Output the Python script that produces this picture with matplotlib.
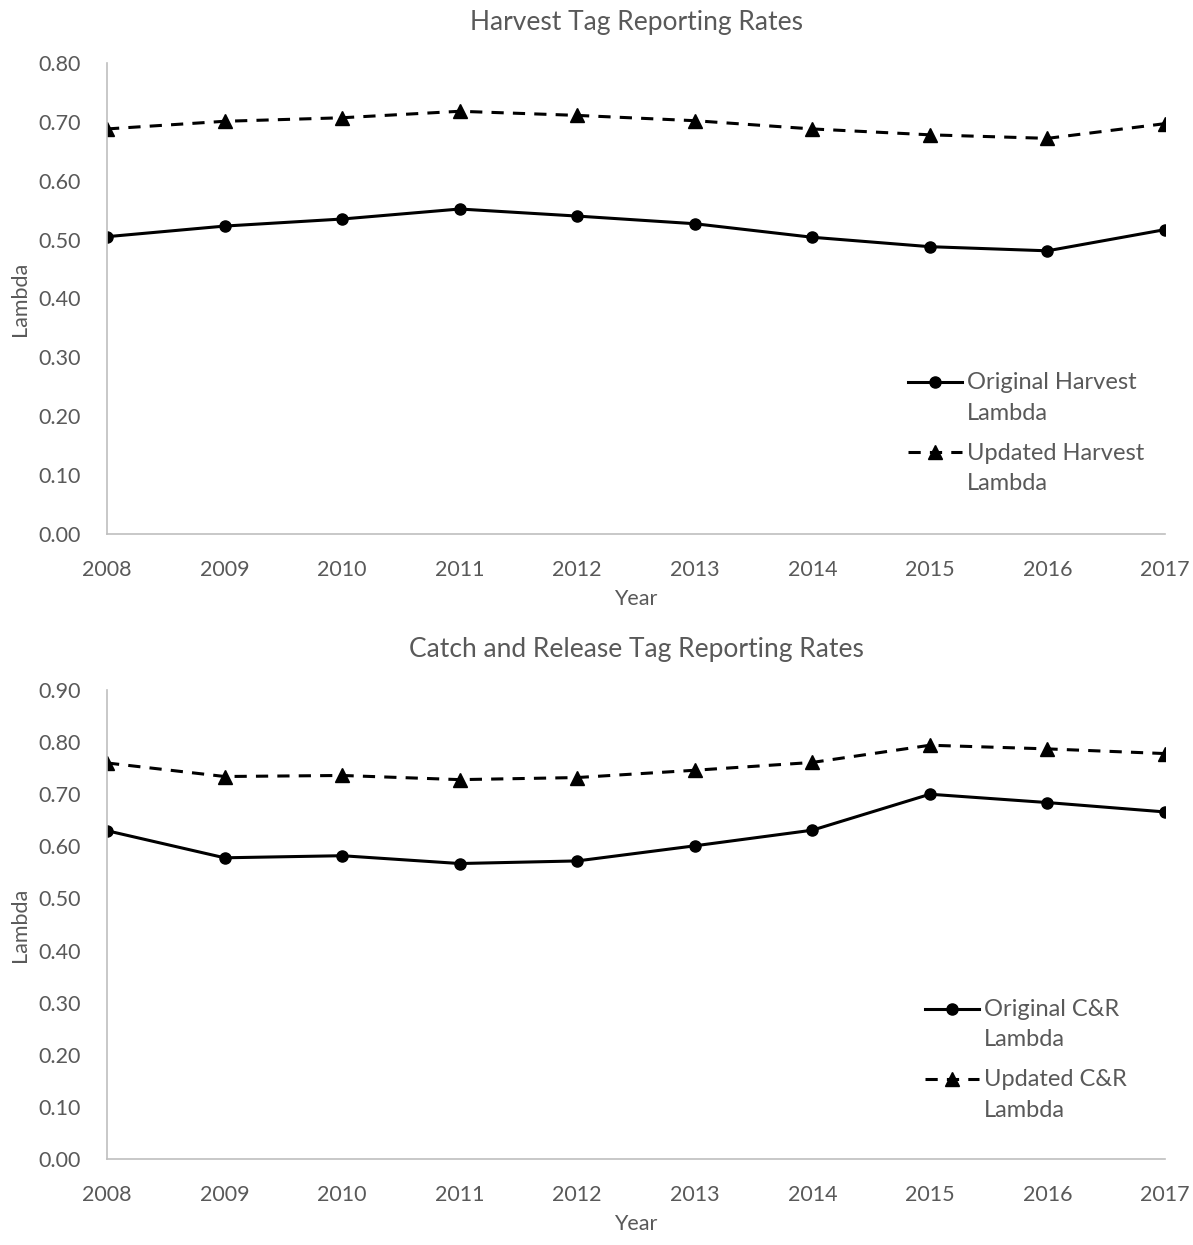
import matplotlib
matplotlib.use("Agg")
import numpy as np
import matplotlib.pyplot as plt
from matplotlib.ticker import FormatStrFormatter

plt.rcParams['font.family'] = ['Lato', 'DejaVu Sans']

years = [2008, 2009, 2010, 2011, 2012, 2013, 2014, 2015, 2016, 2017]

# Harvest tag reporting rates
harvest_original = [0.505, 0.523, 0.535, 0.552, 0.540, 0.527, 0.504, 0.488, 0.481, 0.517]
harvest_updated = [0.688, 0.701, 0.707, 0.718, 0.711, 0.702, 0.688, 0.678, 0.672, 0.697]

# Catch and release tag reporting rates
cr_original = [0.630, 0.578, 0.582, 0.567, 0.572, 0.601, 0.631, 0.700, 0.684, 0.666]
cr_updated = [0.760, 0.734, 0.736, 0.728, 0.732, 0.746, 0.761, 0.794, 0.787, 0.778]

text_gray = '#595959'
spine_gray = '#bfbfbf'
leg_fs = 17
leg_ls = 1.55

fig = plt.figure(figsize=(11.93, 12.45), dpi=100)
W, H = 1193, 1245

def make_axes(top, bottom):
    return fig.add_axes([107 / W, 1 - bottom / H, (1165 - 107) / W, (bottom - top) / H])

ax1 = make_axes(63, 534)
ax2 = make_axes(690, 1159)

panels = [
    (ax1, harvest_original, harvest_updated, 'Harvest Tag Reporting Rates',
     'Original Harvest\nLambda', 'Updated Harvest\nLambda', 0.80, (0.757, 0.343)),
    (ax2, cr_original, cr_updated, 'Catch and Release Tag Reporting Rates',
     'Original C&R\nLambda', 'Updated C&R\nLambda', 0.90, (0.773, 0.341)),
]

for ax, orig, upd, title, lab1, lab2, ymax, legpos in panels:
    ax.plot(years, orig, color='black', lw=2.2, marker='o', ms=8, label=lab1)
    ax.plot(years, upd, color='black', lw=2.2, ls=(0, (4, 3)), marker='^', ms=10, label=lab2)
    ax.set_xlim(2008, 2017)
    ax.set_ylim(0, ymax)
    ax.set_yticks([i / 10 for i in range(int(round(ymax * 10)) + 1)])
    ax.yaxis.set_major_formatter(FormatStrFormatter('%.2f'))
    ax.set_xticks(years)
    for s in ['top', 'right']:
        ax.spines[s].set_visible(False)
    for s in ['left', 'bottom']:
        ax.spines[s].set_color(spine_gray)
        ax.spines[s].set_linewidth(1.2)
    ax.tick_params(length=0, labelsize=15.5, colors=text_gray)
    ax.tick_params(axis='x', pad=19)
    ax.tick_params(axis='y', pad=19)
    ax.set_xlabel('Year', fontsize=15.5, color=text_gray, labelpad=6)
    ax.set_ylabel('Lambda', fontsize=15.5, color=text_gray, labelpad=6)
    ax.set_title(title, fontsize=19, color=text_gray, pad=24)
    leg = ax.legend(loc='upper left', bbox_to_anchor=legpos, frameon=False, fontsize=leg_fs,
                    labelcolor=text_gray, handlelength=2.3, handletextpad=0.2,
                    labelspacing=0.8, borderpad=0, borderaxespad=0)
    for t in leg.get_texts():
        t.set_linespacing(leg_ls)
    # line the legend handles up with the first line of each label
    for h in leg.legend_handles:
        h.set_ydata(np.asarray(h.get_ydata()) + 0.5 * leg_fs * leg_ls * 0.9)

fig.savefig('out.png', dpi=100)
